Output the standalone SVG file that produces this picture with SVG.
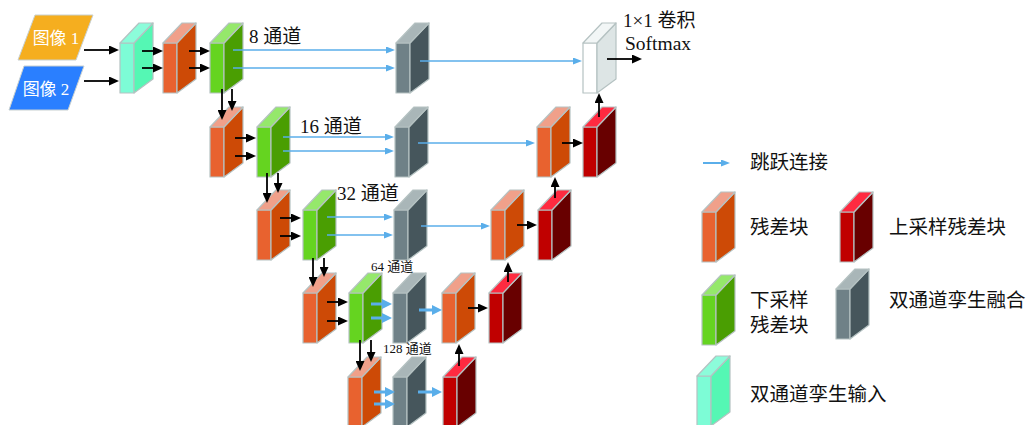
<svg xmlns="http://www.w3.org/2000/svg" xmlns:xlink="http://www.w3.org/1999/xlink" width="1027" height="425" viewBox="0 0 1027 425">
<style>
.f{stroke:#b5c2c2;stroke-width:1.2;stroke-linejoin:round}
.t{font-family:"Liberation Serif","Noto Sans CJK SC",serif;fill:#111}
.lg{font-size:19.5px}
.blk{stroke:#000;stroke-width:1.8;fill:none}
.blu{stroke:#5aaeea;stroke-width:1.3;fill:none}
.blu3{stroke:#5aaeea;stroke-width:3;fill:none}
</style>
<defs>
<marker id="ah" markerUnits="userSpaceOnUse" markerWidth="10" markerHeight="9" refX="0" refY="4.5" orient="auto"><path d="M0,0 L10,4.5 L0,9 z" fill="#000"/></marker>
<marker id="bh" markerUnits="userSpaceOnUse" markerWidth="9" markerHeight="7" refX="0" refY="3.5" orient="auto"><path d="M0,0 L9,3.5 L0,7 z" fill="#5aaeea"/></marker>
<marker id="bh3" markerUnits="userSpaceOnUse" markerWidth="10" markerHeight="10" refX="0" refY="5" orient="auto"><path d="M0,0 L10,5 L0,10 z" fill="#5aaeea"/></marker>
<g id="b-orange"><rect class="f" x="0" y="20" width="14" height="50" fill="#e8622f"/><polygon class="f" points="14,20 33,0 33,56 14,70" fill="#cd4a06"/><polygon class="f" points="0,20 19,0 33,0 14,20" fill="#f0a08a"/></g>
<g id="b-green"><rect class="f" x="0" y="20" width="14" height="50" fill="#65d420"/><polygon class="f" points="14,20 33,0 33,56 14,70" fill="#4a9e02"/><polygon class="f" points="0,20 19,0 33,0 14,20" fill="#95e86b"/></g>
<g id="b-cyan"><rect class="f" x="0" y="20" width="14" height="50" fill="#7dfcd6"/><polygon class="f" points="14,20 33,0 33,56 14,70" fill="#55f7b4"/><polygon class="f" points="0,20 19,0 33,0 14,20" fill="#8cfcda"/></g>
<g id="b-gray"><rect class="f" x="0" y="20" width="14" height="50" fill="#6f8187"/><polygon class="f" points="14,20 33,0 33,56 14,70" fill="#46565c"/><polygon class="f" points="0,20 19,0 33,0 14,20" fill="#a9b6b8"/></g>
<g id="b-red"><rect class="f" x="0" y="20" width="14" height="50" fill="#c00000"/><polygon class="f" points="14,20 33,0 33,56 14,70" fill="#680000"/><polygon class="f" points="0,20 19,0 33,0 14,20" fill="#ff2a40"/></g>
<g id="b-white"><rect class="f" x="0" y="20" width="14" height="50" fill="#ffffff"/><polygon class="f" points="14,20 33,0 33,56 14,70" fill="#dde5e5"/><polygon class="f" points="0,20 19,0 33,0 14,20" fill="#f2f6f6"/></g>
</defs>
<rect width="1027" height="425" fill="#fff"/>

<g id="input1"><polygon points="35,15 93,15 76,60 18,60" fill="#f5ae1f" stroke="#c8d0d0" stroke-width="1"/><text class="t" x="56" y="44" font-size="17" style="fill:#fff" text-anchor="middle">图像 1</text></g>
<g id="input2"><polygon points="24,66 84,66 68,110 9,110" fill="#2a7fff" stroke="#c8d0d0" stroke-width="1"/><text class="t" x="46" y="95" font-size="17" style="fill:#fff" text-anchor="middle">图像 2</text></g>

<g id="r1-siamese"><use xlink:href="#b-cyan" x="120" y="23"/></g>
<g id="r1-res"><use xlink:href="#b-orange" x="163" y="23"/></g>
<g id="r1-down"><use xlink:href="#b-green" x="210" y="23"/></g>
<g id="r1-fuse"><use xlink:href="#b-gray" x="396" y="23"/></g>
<g id="r1-out"><use xlink:href="#b-white" x="583" y="23"/></g>

<g id="r2-res"><use xlink:href="#b-orange" x="210" y="107"/></g>
<g id="r2-down"><use xlink:href="#b-green" x="257" y="107"/></g>
<g id="r2-fuse"><use xlink:href="#b-gray" x="395" y="107"/></g>
<g id="r2-dres"><use xlink:href="#b-orange" x="537" y="107"/></g>
<g id="r2-up"><use xlink:href="#b-red" x="583" y="107"/></g>

<g id="r3-res"><use xlink:href="#b-orange" x="257" y="190"/></g>
<g id="r3-down"><use xlink:href="#b-green" x="303" y="190"/></g>
<g id="r3-fuse"><use xlink:href="#b-gray" x="394" y="190"/></g>
<g id="r3-dres"><use xlink:href="#b-orange" x="491" y="190"/></g>
<g id="r3-up"><use xlink:href="#b-red" x="538" y="190"/></g>

<g id="r4-res"><use xlink:href="#b-orange" x="303" y="273"/></g>
<g id="r4-down"><use xlink:href="#b-green" x="349" y="273"/></g>
<g id="r4-fuse"><use xlink:href="#b-gray" x="393" y="273"/></g>
<g id="r4-dres"><use xlink:href="#b-orange" x="442" y="273"/></g>
<g id="r4-up"><use xlink:href="#b-red" x="489" y="273"/></g>

<g id="r5-res"><use xlink:href="#b-orange" x="348" y="357"/></g>
<g id="r5-fuse"><use xlink:href="#b-gray" x="393" y="357"/></g>
<g id="r5-up"><use xlink:href="#b-red" x="443" y="357"/></g>

<g id="labels">
<text class="t" x="249" y="43" font-size="19">8 通道</text>
<text class="t" x="300" y="133" font-size="19">16 通道</text>
<text class="t" x="337" y="200" font-size="19">32 通道</text>
<text class="t" x="371" y="271" font-size="13">64 通道</text>
<text class="t" x="383" y="353" font-size="13">128 通道</text>
<text class="t" x="623" y="27" font-size="19">1×1 卷积</text>
<text class="t" x="625" y="50" font-size="19.5">Softmax</text>
</g>

<g id="connectors">
<line class="blk" x1="84" y1="50" x2="109" y2="50" marker-end="url(#ah)"/>
<line class="blk" x1="84" y1="81" x2="109" y2="81" marker-end="url(#ah)"/>
<line class="blk" x1="142" y1="51" x2="153" y2="51" marker-end="url(#ah)"/>
<line class="blk" x1="142" y1="68" x2="153" y2="68" marker-end="url(#ah)"/>
<line class="blk" x1="189" y1="51" x2="200" y2="51" marker-end="url(#ah)"/>
<line class="blk" x1="189" y1="68" x2="200" y2="68" marker-end="url(#ah)"/>
<line class="blk" x1="222" y1="89" x2="222" y2="110" marker-end="url(#ah)"/>
<line class="blk" x1="232" y1="89" x2="232" y2="101" marker-end="url(#ah)"/>
<line class="blk" x1="235" y1="138" x2="246" y2="138" marker-end="url(#ah)"/>
<line class="blk" x1="235" y1="156" x2="246" y2="156" marker-end="url(#ah)"/>
<line class="blk" x1="267" y1="173" x2="267" y2="193" marker-end="url(#ah)"/>
<line class="blk" x1="278" y1="173" x2="278" y2="183" marker-end="url(#ah)"/>
<line class="blk" x1="280" y1="218" x2="291" y2="218" marker-end="url(#ah)"/>
<line class="blk" x1="280" y1="236" x2="291" y2="236" marker-end="url(#ah)"/>
<line class="blk" x1="313" y1="258" x2="313" y2="277" marker-end="url(#ah)"/>
<line class="blk" x1="324" y1="258" x2="324" y2="267" marker-end="url(#ah)"/>
<line class="blk" x1="327" y1="302" x2="338" y2="302" marker-end="url(#ah)"/>
<line class="blk" x1="327" y1="321" x2="338" y2="321" marker-end="url(#ah)"/>
<line class="blk" x1="360" y1="340" x2="360" y2="361" marker-end="url(#ah)"/>
<line class="blk" x1="371" y1="340" x2="371" y2="352" marker-end="url(#ah)"/>
<line class="blk" x1="562" y1="143" x2="573" y2="143" marker-end="url(#ah)"/>
<line class="blk" x1="517" y1="225" x2="527" y2="225" marker-end="url(#ah)"/>
<line class="blk" x1="468" y1="308" x2="478" y2="308" marker-end="url(#ah)"/>
<line class="blk" x1="599" y1="117" x2="599" y2="103" marker-end="url(#ah)"/>
<line class="blk" x1="555" y1="198" x2="555" y2="187" marker-end="url(#ah)"/>
<line class="blk" x1="508" y1="282" x2="508" y2="272" marker-end="url(#ah)"/>
<line class="blk" x1="459" y1="366" x2="459" y2="354" marker-end="url(#ah)"/>
<line class="blk" x1="607" y1="59" x2="632" y2="59" marker-end="url(#ah)"/>

<line class="blu" x1="233" y1="50" x2="386" y2="50" marker-end="url(#bh)"/>
<line class="blu" x1="233" y1="68" x2="386" y2="68" marker-end="url(#bh)"/>
<line class="blu" x1="420" y1="61" x2="573" y2="61" marker-end="url(#bh)"/>
<line class="blu" x1="283" y1="137" x2="385" y2="137" marker-end="url(#bh)"/>
<line class="blu" x1="283" y1="151" x2="385" y2="151" marker-end="url(#bh)"/>
<line class="blu" x1="418" y1="143" x2="526" y2="143" marker-end="url(#bh)"/>
<line class="blu" x1="327" y1="217" x2="384" y2="217" marker-end="url(#bh)"/>
<line class="blu" x1="327" y1="235" x2="384" y2="235" marker-end="url(#bh)"/>
<line class="blu" x1="421" y1="226" x2="481" y2="226" marker-end="url(#bh)"/>
<line class="blu3" x1="371" y1="304" x2="382" y2="304" marker-end="url(#bh3)"/>
<line class="blu3" x1="371" y1="318" x2="382" y2="318" marker-end="url(#bh3)"/>
<line class="blu3" x1="419" y1="310" x2="432" y2="310" marker-end="url(#bh3)"/>
<line class="blu3" x1="374" y1="392" x2="385" y2="392" marker-end="url(#bh3)"/>
<line class="blu3" x1="374" y1="404" x2="385" y2="404" marker-end="url(#bh3)"/>
<line class="blu3" x1="418" y1="392" x2="432" y2="392" marker-end="url(#bh3)"/>
</g>

<g id="legend">
<g id="lg-skip"><line class="blu" style="stroke-width:2" x1="703" y1="163" x2="721" y2="163" marker-end="url(#bh)"/><text class="t lg" x="750" y="169">跳跃连接</text></g>
<g id="lg-res"><use xlink:href="#b-orange" x="702" y="192"/><text class="t lg" x="750" y="234">残差块</text></g>
<g id="lg-up"><use xlink:href="#b-red" x="840" y="192"/><text class="t lg" x="889" y="234">上采样残差块</text></g>
<g id="lg-down"><use xlink:href="#b-green" x="702" y="275"/><text class="t lg" x="750" y="307">下采样</text><text class="t lg" x="750" y="332">残差块</text></g>
<g id="lg-fuse"><use xlink:href="#b-gray" x="836" y="269"/><text class="t lg" x="889" y="307">双通道孪生融合</text></g>
<g id="lg-in"><use xlink:href="#b-cyan" x="697" y="356"/><text class="t lg" x="750" y="401">双通道孪生输入</text></g>
</g>
</svg>
